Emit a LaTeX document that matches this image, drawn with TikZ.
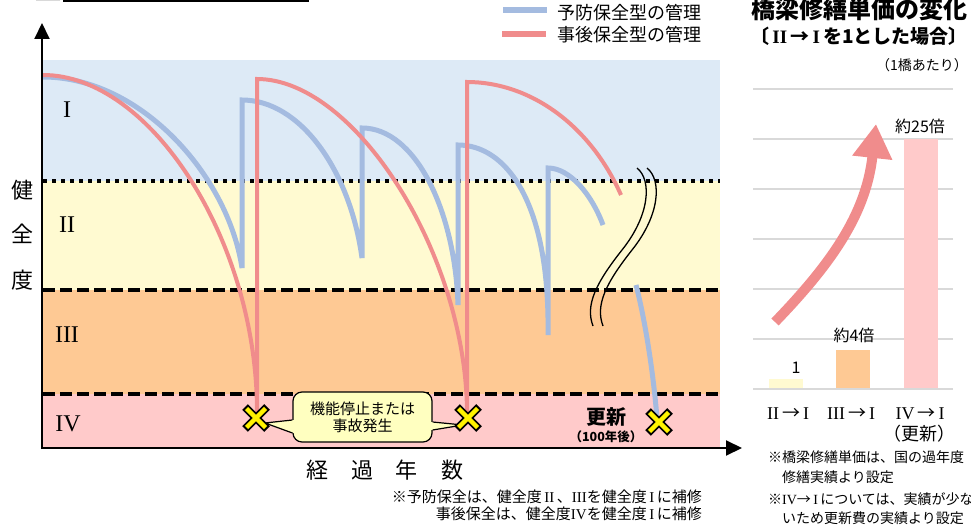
\documentclass[tikz,border=0pt]{standalone}
\usepackage{fontspec}
\setmainfont{Noto Sans CJK JP}
\newfontfamily\romfont{Liberation Serif}
\usetikzlibrary{arrows.meta}

\definecolor{bandone}{HTML}{DDEAF6}
\definecolor{bandtwo}{HTML}{FFFAD1}
\definecolor{bandthree}{HTML}{FEC994}
\definecolor{bandfour}{HTML}{FFCACA}
\definecolor{prevblue}{HTML}{A4BBE0}
\definecolor{postred}{HTML}{F08C8C}
\definecolor{gridgray}{HTML}{D9D9D9}
\definecolor{notefill}{HTML}{FFFFC0}

\newcommand{\rn}[1]{{\romfont #1}}

\tikzstyle{bandedge}=[draw=black,line width=4pt]
\tikzstyle{bandlabel}=[font=\romfont\fontsize{24}{24}\selectfont,inner sep=0pt]
\tikzstyle{prevline}=[draw=prevblue,line width=5pt]
\tikzstyle{postline}=[draw=postred,line width=4pt]
\tikzstyle{axisline}=[draw=black,line width=2pt,-{Triangle[length=16pt,width=15pt]}]
\tikzstyle{axislabel}=[font=\fontsize{22}{22}\selectfont,inner sep=0pt]
\tikzstyle{waveline}=[draw=black,line width=1.3pt]
\tikzstyle{notebox}=[draw=black,line width=1.2pt,fill=notefill,rounded corners=9pt,minimum width=139pt,minimum height=50pt,align=center,font=\fontsize{15}{17}\selectfont]
\tikzstyle{noteedge}=[draw=black,line width=1.2pt]
\tikzstyle{markout}=[draw=black,line width=8pt]
\tikzstyle{markin}=[draw=yellow,line width=4.5pt]
\tikzstyle{legendtext}=[anchor=west,font=\fontsize{18}{18}\selectfont,inner sep=0pt]
\tikzstyle{titletext}=[font=\bfseries\fontsize{24}{24}\selectfont,inner sep=0pt]
\tikzstyle{subtitle}=[font=\bfseries\fontsize{19}{19}\selectfont,inner sep=0pt]
\tikzstyle{gridline}=[draw=gridgray,line width=1.5pt]
\tikzstyle{barlabel}=[font=\fontsize{16}{16}\selectfont,inner sep=0pt]
\tikzstyle{catlabel}=[font=\fontsize{18}{18}\selectfont,inner sep=0pt]
\tikzstyle{growarrow}=[draw=postred,line width=10pt,-{Triangle[length=34pt,width=38pt]}]
\tikzstyle{notetext}=[font=\fontsize{14}{14}\selectfont,inner sep=0pt]
\tikzstyle{footnote}=[anchor=east,font=\fontsize{15}{15}\selectfont,inner sep=0pt]

\begin{document}
\begin{tikzpicture}[x=1pt,y=-1pt]
    \useasboundingbox (0,0) rectangle (971,529);
    \fill[black!15] (36,0) rectangle (60,1);
    \draw[line width=2.5pt] (63,1.2) -- (309,1.2);

    \fill[bandone] (43,60) rectangle (720,181);
    \fill[bandtwo] (43,181) rectangle (720,290);
    \fill[bandthree] (43,290) rectangle (720,394);
    \fill[bandfour] (43,394) rectangle (720,448);
    \draw[bandedge,dash pattern=on 4pt off 5pt] (43,181) -- (720,181);
    \foreach \y in {290,394}
    \draw[bandedge,dash pattern=on 12pt off 5pt] (43,\y) -- (720,\y);

    \node[bandlabel] (lv1) at (67,110) {I};
    \node[bandlabel] (lv2) at (67,225) {II};
    \node[bandlabel] (lv3) at (67,335) {III};
    \node[bandlabel] (lv4) at (68,424) {IV};

    \draw[prevline] (43,77) .. controls (140,77) and (228,175) .. (242,268) -- (242,100)
        .. controls (300,100) and (350,170) .. (362,258) -- (362,128)
        .. controls (415,128) and (455,210) .. (458,305) -- (458,145)
        .. controls (505,145) and (550,200) .. (548,335) -- (548,168)
        .. controls (570,168) and (592,195) .. (603,225);
    \draw[prevline] (636,285) .. controls (645,320) and (653,370) .. (657,418);
    \draw[postline] (43,75) .. controls (150,75) and (257,240) .. (257,412) -- (257,79)
        .. controls (355,79) and (467,255) .. (467,414) -- (467,82)
        .. controls (530,82) and (590,125) .. (621,195);

    \draw[waveline] (637,168) .. controls (652,180) and (650,215) .. (622,250) .. controls (596,283) and (585,305) .. (593,326);
    \draw[waveline] (647,168) .. controls (662,180) and (660,215) .. (632,250) .. controls (606,283) and (595,305) .. (603,326);

    \draw[axisline] (42,449) -- (42,23);
    \draw[axisline] (41,448) -- (742,448);
    \foreach \ch/\y [count=\i] in {健/190,全/234,度/280}
    \node[axislabel] (yl\i) at (22,\y) {\ch};
    \foreach \ch/\x [count=\i] in {経/317,過/362,年/406,数/452}
    \node[axislabel] (xl\i) at (\x,470) {\ch};

    \coordinate (m1) at (256,418);
    \coordinate (m2) at (468,418);
    \coordinate (m3) at (659,422);

    \node[notebox] (note) at (362.5,417) {機能停止または\\事故発生};
    \fill[notefill] ([shift={(1.5,3)}]note.west) -- ([shift={(9,5)}]m1) -- ([shift={(1.5,16)}]note.west) -- cycle;
    \draw[noteedge] ([shift={(0,3)}]note.west) -- ([shift={(9,5)}]m1) -- ([shift={(0,16)}]note.west);
    \fill[notefill] ([shift={(-1.5,5)}]note.east) -- ([shift={(-5,7)}]m2) -- ([shift={(-1.5,13)}]note.east) -- cycle;
    \draw[noteedge] ([shift={(0,5)}]note.east) -- ([shift={(-5,7)}]m2) -- ([shift={(0,13)}]note.east);

    \foreach \m in {m1,m2,m3} {
    \draw[markout] ([shift={(-11,-11)}]\m) -- ([shift={(11,11)}]\m) ([shift={(-11,11)}]\m) -- ([shift={(11,-11)}]\m);
    \draw[markin] ([shift={(-9.5,-9.5)}]\m) -- ([shift={(9.5,9.5)}]\m) ([shift={(-9.5,9.5)}]\m) -- ([shift={(9.5,-9.5)}]\m);
    }

    \node[font=\bfseries\fontsize{20}{20}\selectfont,inner sep=0pt] (renew) at (606,417) {更新};
    \node[font=\bfseries\fontsize{12.5}{12.5}\selectfont,inner sep=0pt] (after) at (606,437) {（100年後）};

    \draw[prevline,line width=6.5pt] (503,10) -- (547,10);
    \draw[postline,line width=6.5pt] (502,34) -- (546,34);
    \node[legendtext] (legprev) at (557,12.5) {予防保全型の管理};
    \node[legendtext] (legpost) at (557,35) {事後保全型の管理};

    \node[titletext] (title) at (859,9) {橋梁修繕単価の変化};
    \node[subtitle] (subtitle) at (859,36) {〔\,\rn{II}\,→\,\rn{I}\,を1とした場合〕};
    \node[notetext,anchor=east] (perbridge) at (968,65) {（1橋あたり）};

    \foreach \y in {89,139,...,389}
    \draw[gridline] (753,\y) -- (953,\y);
    \fill[bandtwo] (769,379) rectangle (803,388);
    \fill[bandthree] (836,350) rectangle (870,388);
    \fill[bandfour] (904,139) rectangle (938,388);
    \node[barlabel] (v1) at (796,368) {1};
    \node[barlabel] (v2) at (854,335) {約4倍};
    \node[barlabel] (v3) at (920,126) {約25倍};
    \draw[growarrow] (775,322) .. controls (830,265) and (866,215) .. (876,124);

    \node[catlabel] (c1) at (788,414) {\rn{II}\,→\,\rn{I}};
    \node[catlabel] (c2) at (851,414) {\rn{III}\,→\,\rn{I}};
    \node[catlabel] (c3) at (920,414) {\rn{IV}\,→\,\rn{I}};
    \node[catlabel] (c3b) at (919,434) {（更新）};

    \node[notetext,anchor=west] (n1) at (768,457) {※橋梁修繕単価は、国の過年度};
    \node[notetext,anchor=west] (n2) at (782,477) {修繕実績より設定};
    \node[notetext,anchor=west] (n3) at (768,499) {※\rn{IV}→\,\rn{I}\,については、実績が少な};
    \node[notetext,anchor=west] (n4) at (782,518) {いため更新費の実績より設定};

    \node[footnote] (f1) at (702,497) {※予防保全は、健全度\,\rn{II}\,、\rn{III}を健全度\,\rn{I}\,に補修};
    \node[footnote] (f2) at (702,514) {事後保全は、健全度\rn{IV}を健全度\,\rn{I}\,に補修};
\end{tikzpicture}
\end{document}
